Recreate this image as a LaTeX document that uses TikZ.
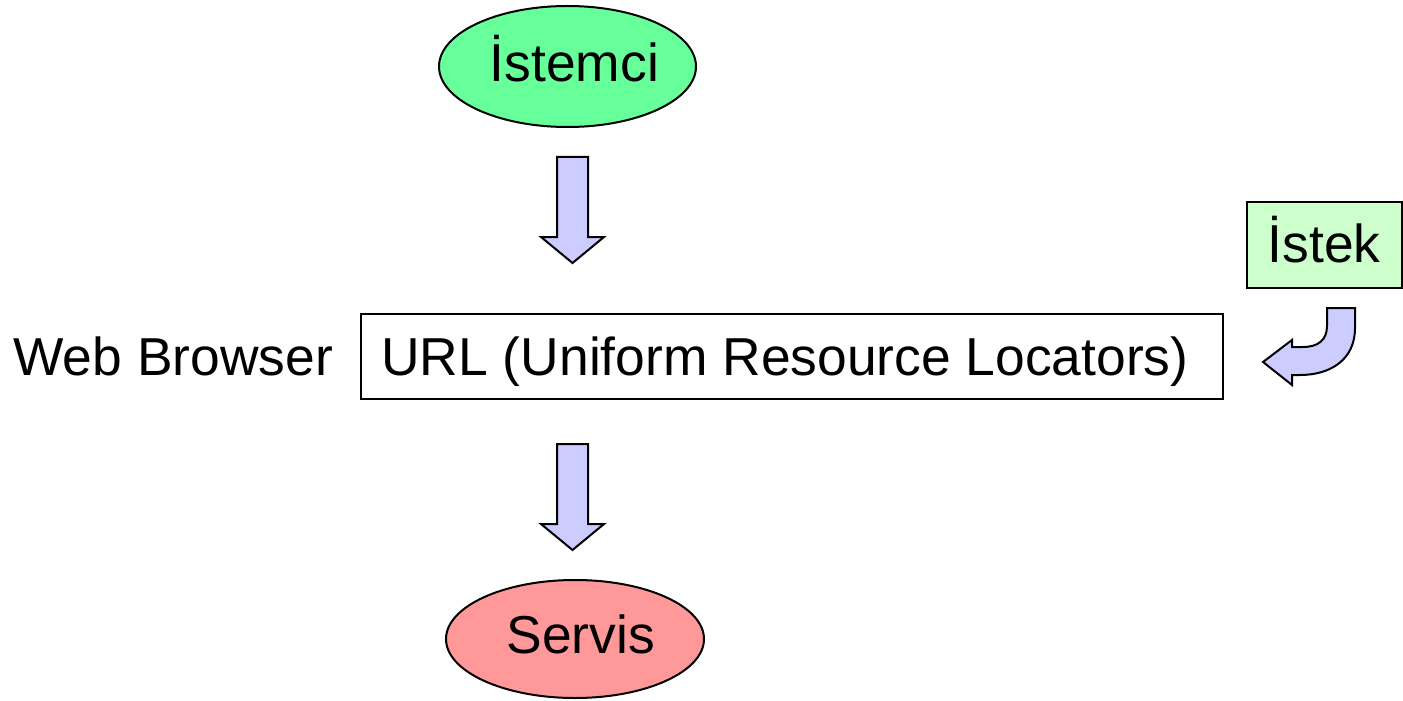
\documentclass[tikz,border=0pt]{standalone}
\usepackage{fontspec}
\setmainfont{Liberation Sans}
\usetikzlibrary{shapes.geometric}
\definecolor{clientgreen}{HTML}{66FF99}
\definecolor{servicered}{HTML}{FF9999}
\definecolor{requestgreen}{HTML}{CCFFCC}
\definecolor{arrowblue}{HTML}{CCCCFF}
\tikzset{
  lbl/.style={inner sep=0pt, anchor=base west, font=\fontsize{26.7}{30}\selectfont},
  oval/.style={ellipse, draw=black, line width=1pt, inner sep=0pt,
    minimum width=128.5pt, minimum height=60.5pt},
  box/.style={draw=black, line width=1pt, inner sep=0pt},
  blockarrow/.style={draw=black, fill=arrowblue, line width=1pt, line join=miter},
  pics/downblock/.style={code={
    \draw[blockarrow] (-15.5,0) -- (15.5,0) -- (15.5,80) -- (31.5,80)
      -- (0,106) -- (-31.5,80) -- (-15.5,80) -- cycle;
  }}
}
\begin{document}
\begin{tikzpicture}[x=0.5pt, y=-0.5pt]
  \useasboundingbox (0,0) rectangle (1403,701);

  % client
  \node[oval, fill=clientgreen] (client) at (567.5,66.5) {};
  \node[lbl] (clientlbl) at (489.5,82) {İstemci};

  % browser / URL
  \node[box, minimum width=431pt, minimum height=42.5pt] (url) at (792,356.5) {};
  \node[lbl] (urllbl) at (381,375) {URL (Uniform Resource Locators)};
  \node[lbl] (browser) at (13,375) {Web Browser};

  % service
  \node[oval, fill=servicered, minimum width=129pt, minimum height=59pt] (service) at (575,639) {};
  \node[lbl] (servicelbl) at (506,653) {Servis};

  % request
  \node[box, fill=requestgreen, minimum width=77.5pt, minimum height=43pt] (request) at (1324.5,245) {};
  \node[lbl] (requestlbl) at (1267.5,262) {İstek};

  % flow arrows
  \pic at (572.5,157) {downblock};
  \pic at (572.5,444) {downblock};

  % bent arrow from the request into the URL
  \draw[blockarrow] (1327,308) -- (1355,308) -- (1355,328)
    .. controls (1355,360) and (1330,375) .. (1300,375)
    -- (1292,375) -- (1292,385) -- (1263,362) -- (1292,340) -- (1292,347)
    -- (1303,347) .. controls (1318,347) and (1327,340) .. (1327,326) -- cycle;
\end{tikzpicture}
\end{document}
